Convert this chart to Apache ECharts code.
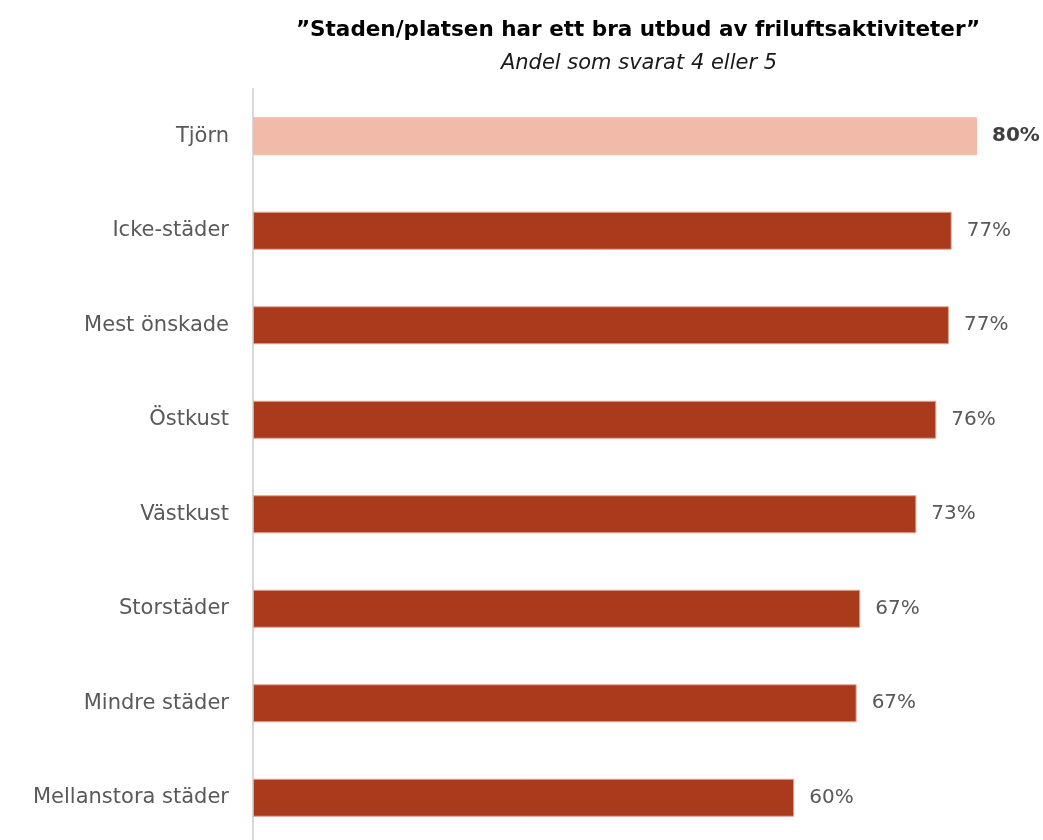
<!DOCTYPE html>
<html><head><meta charset="utf-8">
<script src="https://cdn.jsdelivr.net/npm/echarts@6/dist/echarts.min.js"></script>
<style>html,body{margin:0;padding:0;background:#fff;overflow:hidden}#c{width:1043px;height:860px}</style>
</head><body><div id="c"></div>
<script>
const categories = ["Tjörn","Icke-städer","Mest önskade","Östkust","Västkust","Storstäder","Mindre städer","Mellanstora städer"];
const values = [80, 77.2, 76.9, 75.5, 73.3, 67.1, 66.7, 59.8];
const labels = ["80%","77%","77%","76%","73%","67%","67%","60%"];
const highlight = "Tjörn";

const font = "'DejaVu Sans', sans-serif";
const chart = echarts.init(document.getElementById('c'));
chart.setOption({
  animation:false,
  title:[
    {text:"”Staden/platsen har ett bra utbud av friluftsaktiviteter”", left:633, top:14, textAlign:'center',
     textStyle:{fontFamily:font, fontSize:21.5, fontWeight:'bold', color:'#000'}},
    {text:"Andel som svarat 4 eller 5", left:634, top:48, textAlign:'center',
     textStyle:{fontFamily:font, fontSize:21, fontStyle:'italic', fontWeight:'normal', color:'#1a1a1a'}}
  ],
  grid:{left:253, right:66, top:89, height:756, containLabel:false},
  xAxis:{type:'value', min:0, max:80, show:false},
  yAxis:{type:'category', inverse:true, data:categories,
    axisLine:{show:true, lineStyle:{color:'#d9d9d9', width:2}},
    axisTick:{show:false},
    axisLabel:{margin:24, fontFamily:font, fontSize:21, color:'#595959'}},
  series:[{
    type:'bar', barWidth:38,
    data: values.map((v,i)=>({value:v,
      itemStyle:{color: categories[i]===highlight ? '#F2BAA8' : '#A93A1B',
                 borderColor: categories[i]===highlight ? '#F2BAA8' : '#E4A592', borderWidth:1},
      label:{fontWeight: categories[i]===highlight ? 'bold':'normal',
             color: categories[i]===highlight ? '#404040':'#595959'}})),
    label:{show:true, position:'right', distance:15, fontFamily:font, fontSize:20,
      formatter:p=>labels[p.dataIndex]}
  }]
});
</script></body></html>
